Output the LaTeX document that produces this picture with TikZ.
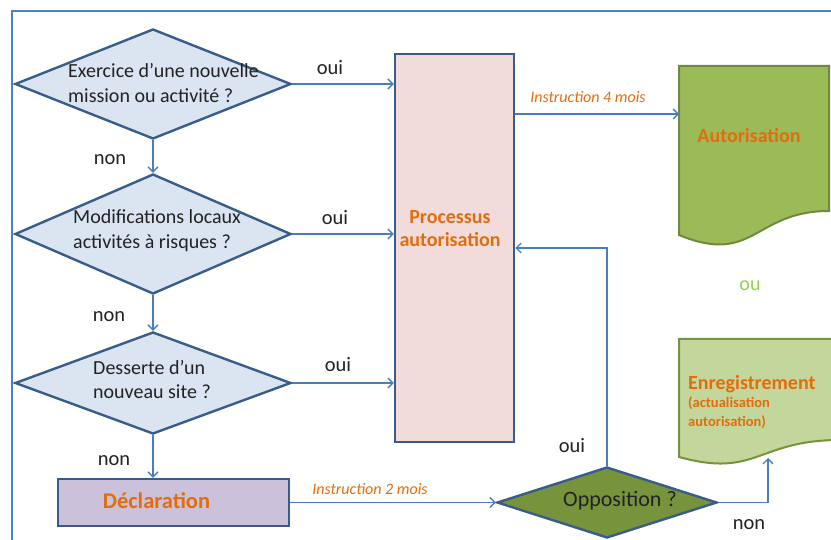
\documentclass[tikz,border=0pt]{standalone}
\usepackage{fontspec}
\setmainfont{Carlito}
\usepackage{xcolor}
\usetikzlibrary{shapes.geometric,arrows.meta}

\definecolor{frameblue}{HTML}{4F81BD}
\definecolor{linkblue}{HTML}{4A7EBB}
\definecolor{darkblue}{HTML}{385D8A}
\definecolor{qfill}{HTML}{DBE5F1}
\definecolor{procfill}{HTML}{F2DCDB}
\definecolor{declfill}{HTML}{CCC1DA}
\definecolor{autfill}{HTML}{9BBB59}
\definecolor{autline}{HTML}{71893F}
\definecolor{enrfill}{HTML}{C3D69B}
\definecolor{olive}{HTML}{77933C}
\definecolor{orng}{HTML}{E46C0A}
\definecolor{oucol}{HTML}{92D050}
\definecolor{txt}{HTML}{222222}

\tikzset{
	ques/.style={diamond, draw=darkblue, fill=qfill, line width=2.4pt, inner sep=0pt, minimum width=276pt, minimum height=109pt},
	qtext/.style={anchor=west, align=left, inner sep=0pt, text=txt, font=\fontsize{20}{24.5}\selectfont},
	lbl/.style={anchor=base, inner sep=0pt, text=txt, font=\fontsize{20.5}{24}\selectfont},
	instr/.style={anchor=base, inner sep=0pt, text=orng, font=\itshape\fontsize{16}{19}\selectfont},
	obold/.style={inner sep=0pt, text=orng, align=center, font=\bfseries\fontsize{20}{23}\selectfont},
	link/.style={draw=linkblue, line width=1.3pt, -{Straight Barb[length=5pt,width=10pt]}},
}

\begin{document}
\begin{tikzpicture}[x=1pt, y=-1pt]
		\clip (0,0) rectangle (831,540);
		\draw[frameblue, line width=2pt] (12,11) rectangle (900,600);

		\node[ques, minimum height=110pt] (q1) at (153,84) {};
		\node[ques, minimum height=120pt] (q2) at (153,234) {};
		\node[ques, minimum height=102pt] (q3) at (153,383) {};
		\node[qtext] (q1t) at (68,83) {Exercice d’une nouvelle\\mission ou activité ?};
		\node[qtext] (q2t) at (73,230.5) {Modifications locaux\\activités à risques ?};
		\node[qtext] (q3t) at (93,379.5) {Desserte d’un\\nouveau site ?};

		\node[draw=darkblue, fill=procfill, line width=2.5pt, minimum width=119pt, minimum height=388pt] (proc) at (454.5,248) {};
		\node[obold] (proct) at (450,229) {Processus\\autorisation};

		\node[draw=darkblue, fill=declfill, line width=2.4pt, minimum width=231pt, minimum height=47pt] (decl) at (173.5,502.5) {};
		\node[obold, anchor=base, font=\bfseries\fontsize{22.5}{26}\selectfont] (declt) at (156.5,508) {Déclaration};

		\node[diamond, draw=darkblue, fill=olive, line width=2.4pt, inner sep=0pt, minimum width=220pt, minimum height=71pt] (opp) at (607,502.5) {};
		\node[lbl, font=\fontsize{22}{26}\selectfont] (oppt) at (620,506) {Opposition ?};

		\draw[draw=autline, fill=autfill, line width=2pt] (679,66) -- (829,66) -- (829,211) .. controls (754,211) and (754,266) .. (679,235) -- cycle;
		\node[obold, anchor=base] (autt) at (749,143) {Autorisation};

		\node[text=oucol, anchor=base, inner sep=0pt, font=\fontsize{20}{24}\selectfont] (ou) at (750,291) {ou};

		\draw[draw=olive, fill=enrfill, line width=2pt] (679,339) -- (840,339) -- (840,440) .. controls (757,440) and (757,478.5) .. (679,457) -- cycle;
		\node[obold, anchor=base west] (enrt) at (688,389) {Enregistrement};
		\node[obold, anchor=north west, align=left, font=\bfseries\fontsize{14.5}{19}\selectfont] (enrs) at (688,396.5) {(actualisation\\autorisation)};

		\coordinate (autin) at (679,114);
		\coordinate (enrin) at (768,458);

		\draw[link] (q1.east) -- (q1.east -| proc.west);
		\draw[link] (q2.east) -- (q2.east -| proc.west);
		\draw[link] (q3.east) -- (q3.east -| proc.west);
		\draw[link] (q1.south) -- (q2.north);
		\draw[link] (q2.south) -- (q3.north);
		\draw[link] (q3.south) -- (q3.south |- decl.north);
		\draw[link] (decl.east) -- (opp.west);
		\draw[link] (proc.east |- autin) -- (autin);
		\draw[link] (opp.north) |- (proc.east);
		\draw[link] (opp.east) -| (enrin);

		\node[lbl] (oui1) at (330,75) {oui};
		\node[lbl] (oui2) at (335,225) {oui};
		\node[lbl] (oui3) at (338,372) {oui};
		\node[lbl] (oui4) at (572,452) {oui};
		\node[lbl] (non1) at (110,165) {non};
		\node[lbl] (non2) at (109,322) {non};
		\node[lbl] (non3) at (114,465) {non};
		\node[lbl] (non4) at (749,529) {non};
		\node[instr] (ins4) at (588,103) {Instruction 4 mois};
		\node[instr] (ins2) at (370,494) {Instruction 2 mois};
\end{tikzpicture}
\end{document}
